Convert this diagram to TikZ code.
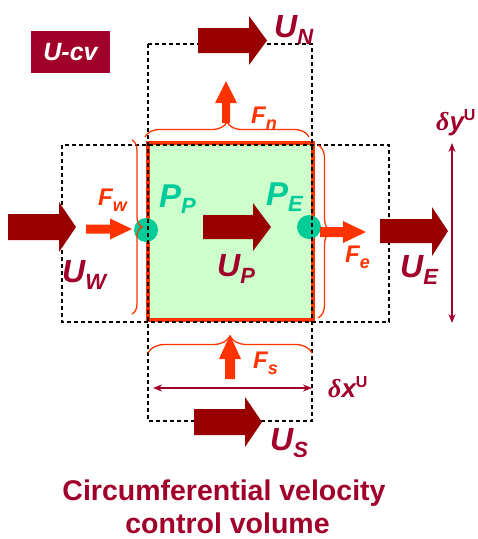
\documentclass[tikz,border=0pt]{standalone}
\usepackage{fontspec}
\setmainfont{Liberation Sans}
\newfontfamily\serifit{Liberation Serif}
\usetikzlibrary{decorations.pathreplacing,arrows.meta}
\definecolor{arrowred}{HTML}{990000}
\definecolor{labred}{HTML}{A0002A}
\definecolor{fred}{HTML}{FF3300}
\definecolor{pgreen}{HTML}{00CC99}
\definecolor{cvfill}{HTML}{CCFFCC}
\newcommand{\lblU}[2]{{\fontsize{32}{32}\selectfont #1}\raisebox{-7pt}{\fontsize{22}{22}\selectfont #2}}
\newcommand{\lblF}[2]{{\fontsize{24}{24}\selectfont #1}\raisebox{-6pt}{\fontsize{18}{18}\selectfont #2}}
\newcommand{\lblP}[2]{{\fontsize{33}{33}\selectfont #1}\raisebox{-6pt}{\fontsize{22}{22}\selectfont #2}}
\newcommand{\lblD}[2]{{\serifit\bfseries\itshape\fontsize{26}{26}\selectfont δ}{\bfseries\itshape\fontsize{26}{26}\selectfont #1}\raisebox{10pt}{\bfseries\fontsize{16}{16}\selectfont #2}}
\begin{document}
\begin{tikzpicture}[x=1pt,y=-1pt,
  lab/.style={inner sep=0pt, anchor=base west, font=\bfseries\itshape},
  ulab/.style={lab, text=labred},
  flab/.style={lab, text=fred},
  plab/.style={lab, text=pgreen},
  dashbox/.style={draw=black, line width=1.2pt, dash pattern=on 4pt off 3pt},
  fluxbrace/.style={draw=fred, line width=1.3pt, decorate},
  dimarrow/.style={draw=labred, line width=1.5pt, {Stealth[length=9pt,width=7pt]}-{Stealth[length=9pt,width=7pt]}},
  bigarrow/.style={fill=arrowred},
  farrow/.style={fill=fred},
  dot/.style={circle, fill=pgreen, minimum size=24pt, inner sep=0pt}
]
\useasboundingbox (0,0) rectangle (478,539);

% U-cv tag
\node[fill=labred, text=white, minimum width=79pt, minimum height=42pt, inner sep=0pt,
      font=\bfseries\itshape\fontsize{25}{25}\selectfont] (tag) at (70.5,52) {U-cv};

% main control volume
\node[draw=fred, line width=4pt, fill=cvfill, minimum width=165pt, minimum height=177pt,
      inner sep=0pt] (cv) at (230.5,231.5) {};

% nodal points
\node[dot] (PP) at (146,230) {};
\node[dot] (PE) at (309,227) {};

% dashed neighbour boxes
\draw[dashbox] (148,44) rectangle (312,421);
\draw[dashbox] (62,145) rectangle (389,322);

% braces
\draw[fluxbrace, decoration={brace, amplitude=15pt}] (145,137) -- (309,137);
\draw[fluxbrace, decoration={brace, amplitude=17pt}] (148,353) -- (312,353);
\draw[fluxbrace, decoration={brace, amplitude=10pt}] (132,140) -- (132,314);
\draw[fluxbrace, decoration={brace, amplitude=13pt}] (318,145) -- (318,318);

% velocity arrows
\fill[bigarrow] (198,28) -- (249,28) -- (249,16) -- (267,40.5) -- (249,65) -- (249,53) -- (198,53) -- cycle;
\fill[bigarrow] (8,214) -- (59,214) -- (59,202) -- (76,227) -- (59,252) -- (59,240) -- (8,240) -- cycle;
\fill[bigarrow] (203,215) -- (253,215) -- (253,203) -- (271,227) -- (253,251) -- (253,239) -- (203,239) -- cycle;
\fill[bigarrow] (380,219) -- (432,219) -- (432,207) -- (448,231) -- (432,256) -- (432,243) -- (380,243) -- cycle;
\fill[bigarrow] (194,409) -- (245,409) -- (245,397) -- (262,422) -- (245,447) -- (245,435) -- (194,435) -- cycle;

% flux arrows
\fill[farrow] (86,224.5) -- (110,224.5) -- (110,218.5) -- (132,229) -- (110,239.5) -- (110,233.5) -- (86,233.5) -- cycle;
\fill[farrow] (320,227) -- (343,227) -- (343,221) -- (366,232) -- (343,243) -- (343,237) -- (320,237) -- cycle;
\fill[farrow] (222,123) -- (222,103) -- (215,103) -- (226,81) -- (237,103) -- (230,103) -- (230,123) -- cycle;
\fill[farrow] (225,379) -- (225,359) -- (219,359) -- (230,335) -- (241,359) -- (235,359) -- (235,379) -- cycle;

% dimension arrows
\coordinate (dyT) at (452,143);
\coordinate (dyB) at (452,323);
\coordinate (dxL) at (153,388);
\coordinate (dxR) at (312,388);
\draw[dimarrow] (dyT) -- (dyB);
\draw[dimarrow] (dxL) -- (dxR);

% labels
\node[ulab] (lUN) at (274,37) {\lblU{U}{N}};
\node[ulab] (lUW) at (62,282) {\lblU{U}{W}};
\node[ulab] (lUP) at (217,276) {\lblU{U}{P}};
\node[ulab] (lUE) at (400,277) {\lblU{U}{E}};
\node[ulab] (lUS) at (270,450) {\lblU{U}{S}};
\node[plab] (lPP) at (159,207) {\lblP{P}{P}};
\node[plab] (lPE) at (266,205) {\lblP{P}{E}};
\node[flab] (lFw) at (98,205) {\lblF{F}{w}};
\node[flab] (lFn) at (251,123) {\lblF{F}{n}};
\node[flab] (lFe) at (345,262) {\lblF{F}{e}};
\node[flab] (lFs) at (253,368) {\lblF{F}{s}};
\node[inner sep=0pt, anchor=base west, text=labred] (ldy) at (436,130) {\lblD{y}{U}};
\node[inner sep=0pt, anchor=base west, text=labred] (ldx) at (328,397) {\lblD{x}{U}};

% caption
\node[text=labred, font=\bfseries\fontsize{28.5}{28.5}\selectfont, inner sep=0pt, anchor=base] (cap1) at (224,500) {Circumferential velocity};
\node[text=labred, font=\bfseries\fontsize{28.5}{28.5}\selectfont, inner sep=0pt, anchor=base] (cap2) at (227.5,533) {control volume};
\end{tikzpicture}
\end{document}
